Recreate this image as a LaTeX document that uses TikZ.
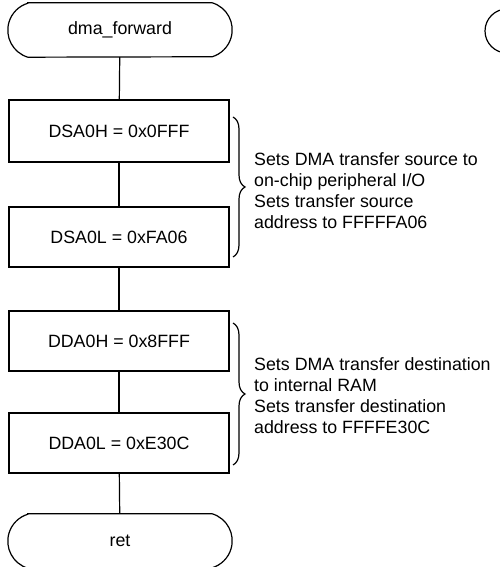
\documentclass[tikz,border=0pt]{standalone}
\usepackage{fontspec}
\setmainfont{Liberation Sans}
\usetikzlibrary{decorations.pathreplacing}
\begin{document}
\begin{tikzpicture}[x=1pt,y=1pt,
  every node/.style={font=\fontsize{17.8}{21}\selectfont, inner sep=0pt},
  line/.style={line width=1.2pt},
  procbox/.style={draw, line width=1.2pt, minimum width=220pt, minimum height=60pt},
  termbox/.style={minimum width=224pt, minimum height=54pt},
  note/.style={align=left, anchor=west},
  bracestyle/.style={line width=1.2pt, decorate, decoration={brace, amplitude=12pt}}
]
\useasboundingbox (0,0) rectangle (499,567);
% terminals
\node[termbox] (dma) at (120,537) {dma\_forward};
\draw[line] ([xshift=20pt]dma.north west) -- ([xshift=-20pt]dma.north east)
  arc[start angle=73.1, end angle=-73.1, radius=28.2pt]
  -- ([xshift=20pt]dma.south west)
  arc[start angle=253.1, end angle=106.9, radius=28.2pt] -- cycle;
\node[termbox] (ret) at (120,26) {ret};
\draw[line] ([xshift=20pt]ret.north west) -- ([xshift=-20pt]ret.north east)
  arc[start angle=73.1, end angle=-73.1, radius=28.2pt]
  -- ([xshift=20pt]ret.south west)
  arc[start angle=253.1, end angle=106.9, radius=28.2pt] -- cycle;
% partial terminal at top right
\draw[line] (507,558) arc[start angle=90, end angle=270, radius=22pt];
% process boxes
\node[procbox, minimum height=62pt] (dsa0h) at (119,436) {DSA0H = 0x0FFF};
\node[procbox] (dsa0l) at (119,330) {DSA0L = 0xFA06};
\node[procbox] (dda0h) at (119,226) {DDA0H = 0x8FFF};
\node[procbox] (dda0l) at (119,124) {DDA0L = 0xE30C};
% connectors
\draw[line] (dma) -- (dsa0h);
\draw[line] (dsa0h) -- (dsa0l);
\draw[line] (dsa0l) -- (dda0h);
\draw[line] (dda0h) -- (dda0l);
\draw[line] (dda0l) -- (ret);
% braces
\coordinate (b1t) at (233,450);
\coordinate (b1b) at (233,310);
\coordinate (b2t) at (233,244);
\coordinate (b2b) at (233,102);
\draw[bracestyle] (b1t) -- (b1b);
\draw[bracestyle] (b2t) -- (b2b);
\node[note] (n1) at (254,376) {Sets DMA transfer source to\\on-chip peripheral I/O\\Sets transfer source\\address to FFFFFA06};
\node[note] (n2) at (254,171) {Sets DMA transfer destination\\to internal RAM\\Sets transfer destination\\address to FFFFE30C};
\end{tikzpicture}
\end{document}
